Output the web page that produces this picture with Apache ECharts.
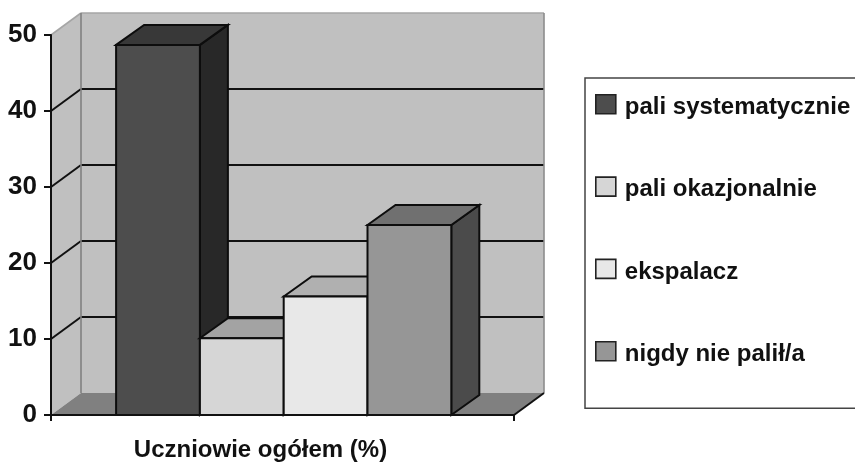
<!DOCTYPE html>
<html>
<head>
<meta charset="utf-8">
<style>html,body{margin:0;padding:0;background:#fff;overflow:hidden}#c{width:855px;height:463px}</style>
<script src="https://cdn.jsdelivr.net/npm/echarts@6/dist/echarts.min.js"></script>
</head>
<body>
<div id="c"></div>
<script>
const categories = ["Uczniowie ogółem (%)"];
const seriesNames = ["pali systematycznie", "pali okazjonalnie", "ekspalacz", "nigdy nie palił/a"];
const seriesValues = [48.7, 10.1, 15.6, 25];
const yTicks = [0, 10, 20, 30, 40, 50];
const frontColors = ["#4d4d4d", "#d6d6d6", "#e8e8e8", "#969696"];
const topColors = ["#383838", "#a3a3a3", "#b0b0b0", "#707070"];
const sideColors = ["#282828", "#6b6b6b", "#747474", "#4b4b4b"];

const FONT = '"Liberation Sans", Arial, sans-serif';
const WALL_DX = 30, WALL_DY = 22, BAR_DX = 28, BAR_DY = 20, BAR_FRACTION = 0.181;

function poly(points, fill, stroke, lw) {
  return { type: 'polygon', shape: { points }, style: { fill, stroke: stroke || 'none', lineWidth: lw || 0 } };
}
function seg(a, b, stroke, lw) {
  return { type: 'line', shape: { x1: a[0], y1: a[1], x2: b[0], y2: b[1] }, style: { stroke, lineWidth: lw } };
}

function renderWalls(params, api) {
  const band = api.size([1, 0])[0];
  const c0 = api.coord([0, 0]);
  const left = c0[0] - band / 2, right = c0[0] + band / 2;
  const y0 = c0[1], yTop = api.coord([0, yTicks[yTicks.length - 1]])[1];
  const kids = [];
  // back wall, side wall, floor
  kids.push(poly([[left + WALL_DX, yTop - WALL_DY], [right + WALL_DX, yTop - WALL_DY], [right + WALL_DX, y0 - WALL_DY], [left + WALL_DX, y0 - WALL_DY]], '#c0c0c0'));
  kids.push(poly([[left, yTop], [left + WALL_DX, yTop - WALL_DY], [left + WALL_DX, y0 - WALL_DY], [left, y0]], '#c0c0c0'));
  kids.push(poly([[left, y0], [left + WALL_DX, y0 - WALL_DY], [right + WALL_DX, y0 - WALL_DY], [right, y0]], '#808080'));
  // gridlines
  yTicks.slice(1, -1).forEach(v => {
    const y = api.coord([0, v])[1];
    kids.push(seg([left, y], [left + WALL_DX, y - WALL_DY], '#111', 2));
    kids.push(seg([left + WALL_DX, y - WALL_DY], [right + WALL_DX, y - WALL_DY], '#111', 2));
  });
  // wall outline
  kids.push(seg([left, yTop], [left + WALL_DX, yTop - WALL_DY], '#a6a6a6', 1.6));
  kids.push(seg([left + WALL_DX, yTop - WALL_DY], [right + WALL_DX, yTop - WALL_DY], '#a6a6a6', 1.6));
  kids.push(seg([left + WALL_DX, yTop - WALL_DY], [left + WALL_DX, y0 - WALL_DY], '#808080', 1.6));
  kids.push(seg([right + WALL_DX, yTop - WALL_DY], [right + WALL_DX, y0 - WALL_DY], '#8c8c8c', 1.6));
  kids.push(seg([right, y0], [right + WALL_DX, y0 - WALL_DY], '#111', 2));
  return { type: 'group', children: kids };
}

function barRenderer(i) {
  return function (params, api) {
    const band = api.size([1, 0])[0];
    const w = band * BAR_FRACTION;
    const c = api.coord([api.value(0), 0]);
    const x0 = c[0] + (i - seriesValues.length / 2) * w + 1.2;
    const x1 = x0 + w;
    const y0 = c[1];
    const yt = api.coord([api.value(0), api.value(1)])[1];
    const k = '#0d0d0d', lw = 2;
    return { type: 'group', children: [
      poly([[x1, y0], [x1 + BAR_DX, y0 - BAR_DY], [x1 + BAR_DX, yt - BAR_DY], [x1, yt]], sideColors[i], k, lw),
      poly([[x0, yt], [x0 + BAR_DX, yt - BAR_DY], [x1 + BAR_DX, yt - BAR_DY], [x1, yt]], topColors[i], k, lw),
      poly([[x0, y0], [x1, y0], [x1, yt], [x0, yt]], frontColors[i], k, lw)
    ] };
  };
}

const series = [{
  type: 'custom', name: '__walls', silent: true, z: 1,
  coordinateSystem: 'cartesian2d', renderItem: renderWalls,
  data: [[0, 0]], encode: { x: 0, y: 1 }
}].concat(seriesNames.map((name, i) => ({
  type: 'custom', name, z: 2, silent: true,
  coordinateSystem: 'cartesian2d', renderItem: barRenderer(i),
  itemStyle: { color: frontColors[i] },
  data: [[0, seriesValues[i]]], encode: { x: 0, y: 1 }
})));

const chart = echarts.init(document.getElementById('c'), null, { renderer: 'canvas' });
chart.setOption({
  animation: false,
  backgroundColor: '#fff',
  grid: { left: 51, top: 35, width: 463, height: 380 },
  xAxis: {
    type: 'category', data: categories, z: 5,
    axisLine: { lineStyle: { color: '#111', width: 2 } },
    axisTick: { show: true, length: 6, lineStyle: { color: '#111', width: 2 } },
    axisLabel: { color: '#111', fontFamily: FONT, fontWeight: 'bold', fontSize: 24, margin: 23, padding: [0, 44, 0, 0] },
    splitLine: { show: false }
  },
  yAxis: {
    type: 'value', min: 0, max: 50, interval: 10, z: 5,
    axisLine: { show: true, lineStyle: { color: '#111', width: 2 } },
    axisTick: { show: true, length: 7, lineStyle: { color: '#111', width: 2 } },
    axisLabel: { color: '#111', fontFamily: FONT, fontWeight: 'bold', fontSize: 26, margin: 14, padding: [4, 0, 0, 0] },
    splitLine: { show: false }
  },
  legend: {
    data: seriesNames, orient: 'vertical', left: 585, top: 78,
    padding: [16, 60, 42, 10], itemWidth: 20, itemHeight: 19, itemGap: 57,
    icon: 'rect', selectedMode: false,
    backgroundColor: '#fff', borderColor: '#444', borderWidth: 1.5,
    itemStyle: { borderColor: '#222', borderWidth: 1.6 },
    formatter: '{t|{name}}',
    textStyle: {
      color: '#111', fontFamily: FONT, fontWeight: 'bold', fontSize: 24,
      rich: { t: { color: '#111', fontFamily: FONT, fontWeight: 'bold', fontSize: 24, padding: [6, 0, 0, 4] } }
    }
  },
  series
});
</script>
</body>
</html>
